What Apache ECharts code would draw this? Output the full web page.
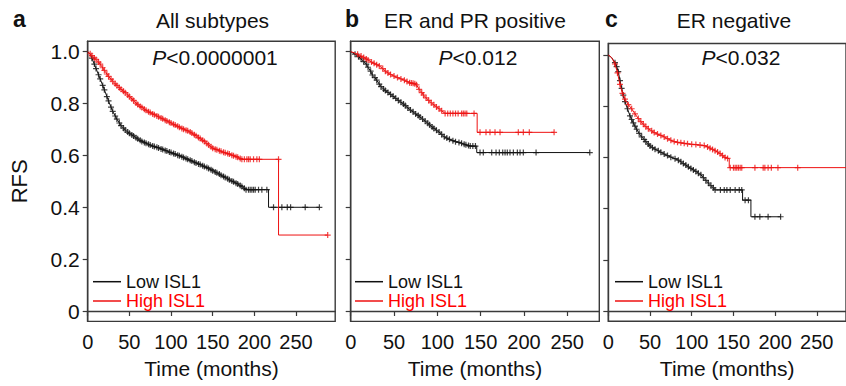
<!DOCTYPE html>
<html><head><meta charset="utf-8">
<script src="https://cdn.jsdelivr.net/npm/echarts@6/dist/echarts.min.js"></script>
<style>html,body{margin:0;padding:0;background:#fff}#c{width:846px;height:386px}</style>
</head><body><div id="c"></div>
<script>
// ---------- data ----------
const xTicks = [0, 50, 100, 150, 200, 250];
const yTicks = [0, 0.2, 0.4, 0.6, 0.8, 1.0];
const panelLetters = ['a', 'b', 'c'];
const panelTitles = ['All subtypes', 'ER and PR positive', 'ER negative'];
const pValues = ['<0.0000001', '<0.012', '<0.032'];
const seriesNames = ['Low ISL1', 'High ISL1'];

// Panel a (All subtypes)
const aLowCurve = [[0,1],[3,0.99],[5,0.975],[10,0.935],[15,0.895],[20,0.853],[25,0.81],[30,0.77],[35,0.74],[40,0.715],[45,0.698],[50,0.685],[55,0.675],[60,0.664],[65,0.654],[70,0.647],[75,0.64],[80,0.634],[85,0.629],[90,0.623],[95,0.617],[100,0.611],[105,0.605],[110,0.599],[115,0.592],[120,0.585],[125,0.578],[130,0.571],[135,0.565],[140,0.557],[145,0.55],[150,0.541],[155,0.533],[160,0.524],[165,0.515],[170,0.506],[175,0.498],[180,0.49],[185,0.48],[190,0.468],[217,0.468],[217,0.40],[278,0.40]];
const aLowCensor = [[5,0.975],[8,0.952],[10,0.935],[13,0.911],[15,0.895],[18,0.87],[20,0.853],[23,0.827],[25,0.81],[28,0.786],[30,0.77],[33,0.752],[35,0.74],[38,0.725],[40,0.715],[43,0.705],[45,0.698],[48,0.69],[50,0.685],[53,0.679],[55,0.675],[58,0.668],[60,0.664],[63,0.658],[65,0.654],[68,0.65],[70,0.647],[73,0.643],[75,0.64],[78,0.636],[80,0.634],[83,0.631],[85,0.629],[88,0.625],[90,0.623],[93,0.619],[95,0.617],[98,0.613],[100,0.611],[103,0.607],[105,0.605],[108,0.601],[110,0.599],[113,0.595],[115,0.592],[118,0.588],[120,0.585],[123,0.581],[125,0.578],[128,0.574],[130,0.571],[133,0.567],[135,0.565],[138,0.56],[140,0.557],[143,0.553],[145,0.55],[148,0.545],[150,0.541],[153,0.536],[155,0.533],[158,0.528],[160,0.524],[163,0.519],[165,0.515],[168,0.51],[170,0.506],[173,0.501],[175,0.498],[178,0.493],[180,0.49],[183,0.484],[185,0.48],[188,0.473],[190,0.468],[193,0.468],[195,0.468],[197,0.468],[199,0.468],[201,0.468],[205,0.468],[209,0.468],[215,0.468],[223,0.40],[233,0.40],[239.5,0.40],[243.5,0.40],[261,0.40],[278,0.40]];
const aHighCurve = [[0,1],[3,0.992],[5,0.985],[10,0.97],[15,0.952],[20,0.928],[25,0.905],[30,0.886],[35,0.87],[40,0.855],[45,0.842],[50,0.827],[55,0.812],[60,0.796],[65,0.785],[70,0.774],[75,0.765],[80,0.757],[85,0.749],[90,0.741],[95,0.733],[100,0.725],[105,0.717],[110,0.709],[115,0.701],[120,0.695],[125,0.686],[130,0.676],[135,0.665],[140,0.654],[145,0.641],[150,0.628],[155,0.622],[160,0.616],[165,0.61],[170,0.605],[175,0.599],[180,0.593],[185,0.585],[229,0.585],[229,0.293],[288,0.293]];
const aHighCensor = [[3,0.992],[5,0.985],[8,0.976],[10,0.97],[13,0.96],[15,0.952],[18,0.938],[20,0.928],[23,0.914],[25,0.905],[28,0.894],[30,0.886],[33,0.876],[35,0.87],[38,0.861],[40,0.855],[43,0.847],[45,0.842],[48,0.833],[50,0.827],[53,0.818],[55,0.812],[58,0.802],[60,0.796],[63,0.789],[65,0.785],[68,0.778],[70,0.774],[73,0.768],[75,0.765],[78,0.76],[80,0.757],[83,0.752],[85,0.749],[88,0.744],[90,0.741],[93,0.736],[95,0.733],[98,0.728],[100,0.725],[103,0.72],[105,0.717],[108,0.712],[110,0.709],[113,0.704],[115,0.701],[118,0.697],[120,0.695],[123,0.69],[125,0.686],[128,0.68],[130,0.676],[133,0.669],[135,0.665],[138,0.658],[140,0.654],[143,0.646],[145,0.641],[148,0.633],[150,0.628],[153,0.624],[155,0.622],[158,0.618],[160,0.616],[163,0.612],[165,0.61],[168,0.607],[170,0.605],[173,0.601],[175,0.599],[178,0.595],[180,0.593],[183,0.588],[185,0.585],[188,0.585],[191,0.585],[193,0.585],[195,0.585],[199,0.585],[203,0.585],[206,0.585],[229,0.585],[288,0.293]];

// Panel b (ER and PR positive)
const bLowCurve = [[0,1],[5,0.99],[9,0.981],[12,0.972],[15,0.962],[18,0.952],[20,0.94],[23,0.925],[25,0.91],[28,0.9],[30,0.89],[33,0.875],[35,0.865],[38,0.856],[40,0.85],[43,0.843],[46,0.835],[49,0.828],[52,0.82],[55,0.812],[58,0.805],[61,0.798],[63,0.792],[66,0.783],[69,0.775],[72,0.768],[75,0.76],[78,0.754],[80,0.748],[83,0.74],[86,0.732],[89,0.724],[91,0.718],[94,0.71],[96,0.704],[99,0.697],[102,0.69],[105,0.681],[108,0.672],[111,0.667],[114,0.662],[118,0.657],[121,0.653],[125,0.65],[128,0.647],[133,0.641],[138,0.636],[145.5,0.636],[145.5,0.611],[276,0.611]];
const bLowCensor = [[5,0.99],[9,0.981],[12,0.972],[15,0.962],[18,0.952],[20,0.94],[23,0.925],[25,0.91],[28,0.9],[30,0.89],[33,0.875],[35,0.865],[38,0.856],[40,0.85],[43,0.843],[46,0.835],[49,0.828],[52,0.82],[55,0.812],[58,0.805],[61,0.798],[63,0.792],[66,0.783],[69,0.775],[72,0.768],[75,0.76],[78,0.754],[80,0.748],[83,0.74],[86,0.732],[89,0.724],[91,0.718],[94,0.71],[96,0.704],[99,0.697],[102,0.69],[105,0.681],[108,0.672],[111,0.667],[114,0.662],[118,0.657],[121,0.653],[125,0.65],[128,0.647],[131,0.643],[133,0.641],[136,0.638],[138,0.636],[141,0.636],[144,0.636],[149.3,0.611],[153.1,0.611],[162.8,0.611],[167.8,0.611],[171.6,0.611],[175.5,0.611],[178.2,0.611],[180.8,0.611],[183.9,0.611],[187.8,0.611],[192.4,0.611],[195.5,0.611],[199.3,0.611],[214,0.611],[276,0.611]];
const bHighCurve = [[0,1],[4,0.996],[8,0.99],[12,0.983],[15,0.978],[20,0.968],[24,0.96],[27,0.955],[30,0.95],[33,0.945],[37,0.935],[40,0.925],[43,0.918],[46,0.912],[50,0.906],[54,0.9],[58,0.895],[62,0.89],[65,0.885],[68,0.88],[72,0.878],[76,0.872],[79,0.855],[82,0.842],[84,0.833],[87,0.822],[90,0.812],[93,0.803],[96,0.795],[99,0.787],[102,0.78],[105,0.772],[109,0.762],[146,0.762],[146,0.689],[235,0.689]];
const bHighCensor = [[8,0.99],[12,0.983],[15,0.978],[18,0.972],[20,0.968],[24,0.96],[27,0.955],[30,0.95],[33,0.945],[37,0.935],[40,0.925],[43,0.918],[46,0.912],[50,0.906],[54,0.9],[58,0.895],[62,0.89],[65,0.885],[68,0.88],[70,0.879],[72,0.878],[74,0.876],[76,0.872],[79,0.855],[82,0.842],[84,0.833],[87,0.822],[90,0.812],[93,0.803],[96,0.795],[99,0.787],[102,0.78],[105,0.772],[109,0.762],[112,0.762],[115,0.762],[118,0.762],[121,0.762],[124,0.762],[128,0.762],[130,0.762],[132,0.762],[134,0.762],[142.4,0.762],[149.3,0.689],[156.2,0.689],[160.8,0.689],[166.6,0.689],[172.4,0.689],[193.5,0.689],[199.3,0.689],[206.2,0.689],[234.8,0.689]];

// Panel c (ER negative)
const cLowCurve = [[0,1],[4,0.99],[8,0.97],[10,0.955],[12,0.935],[14,0.9],[16,0.87],[18,0.843],[20,0.818],[23,0.79],[26,0.762],[28,0.748],[30,0.735],[32,0.722],[34,0.71],[37,0.694],[40,0.68],[43,0.67],[45,0.662],[48,0.652],[50,0.645],[53,0.638],[56,0.632],[60,0.626],[63,0.62],[67,0.613],[71,0.607],[75,0.601],[80,0.595],[84,0.589],[87,0.583],[90,0.576],[93,0.57],[96,0.563],[99,0.557],[102,0.551],[105,0.545],[108,0.538],[111,0.532],[114,0.521],[117,0.51],[120,0.5],[123,0.49],[126,0.481],[128,0.473],[161,0.473],[161,0.433],[171,0.433],[171,0.368],[207,0.368]];
const cLowCensor = [[8,0.97],[10,0.955],[12,0.935],[14,0.9],[16,0.87],[18,0.843],[20,0.818],[23,0.79],[26,0.762],[28,0.748],[30,0.735],[32,0.722],[34,0.71],[37,0.694],[40,0.68],[43,0.67],[45,0.662],[48,0.652],[50,0.645],[53,0.638],[56,0.632],[60,0.626],[63,0.62],[67,0.613],[71,0.607],[75,0.601],[80,0.595],[84,0.589],[87,0.583],[90,0.576],[93,0.57],[96,0.563],[99,0.557],[102,0.551],[105,0.545],[108,0.538],[111,0.532],[114,0.521],[117,0.51],[120,0.5],[123,0.49],[126,0.481],[128,0.473],[134.4,0.473],[139,0.473],[142.2,0.473],[146.2,0.473],[152.1,0.473],[157,0.473],[160,0.473],[164,0.433],[168,0.433],[175.8,0.368],[181.7,0.368],[191.6,0.368],[206.6,0.368]];
const cHighCurve = [[0,1],[4,0.99],[8,0.965],[11,0.93],[14,0.885],[17,0.85],[20,0.828],[24,0.806],[28,0.79],[32,0.77],[36,0.752],[39,0.74],[42,0.73],[45,0.72],[48,0.712],[52,0.704],[55,0.697],[59,0.691],[63,0.686],[67,0.68],[71,0.673],[75,0.667],[79,0.662],[83,0.659],[87,0.657],[91,0.655],[95,0.653],[100,0.651],[105,0.65],[110,0.648],[115,0.646],[119,0.641],[122,0.636],[125,0.631],[128,0.626],[131,0.621],[134,0.615],[137,0.607],[140,0.6],[145,0.595],[145,0.56],[300,0.56]];
const cHighCensor = [[8,0.965],[11,0.93],[14,0.885],[17,0.85],[20,0.828],[24,0.806],[28,0.79],[32,0.77],[36,0.752],[39,0.74],[42,0.73],[45,0.72],[48,0.712],[52,0.704],[55,0.697],[59,0.691],[63,0.686],[67,0.68],[71,0.673],[75,0.667],[79,0.662],[83,0.659],[87,0.657],[91,0.655],[95,0.653],[100,0.651],[105,0.65],[110,0.648],[115,0.646],[119,0.641],[122,0.636],[125,0.631],[128,0.626],[131,0.621],[134,0.615],[137,0.607],[140,0.6],[143,0.596],[146.2,0.56],[150.1,0.56],[152.1,0.56],[154,0.56],[156,0.56],[158.1,0.56],[160,0.56],[175.8,0.56],[185.7,0.56],[187.7,0.56],[191.6,0.56],[195.5,0.56],[203.4,0.56],[227.1,0.56]];

const panels = [
  {low: aLowCurve, lowC: aLowCensor, high: aHighCurve, highC: aHighCensor},
  {low: bLowCurve, lowC: bLowCensor, high: bHighCurve, highC: bHighCensor},
  {low: cLowCurve, lowC: cLowCensor, high: cHighCurve, highC: cHighCensor}
];

// ---------- layout / style ----------
const FONT = '"Liberation Sans", Arial, Helvetica, sans-serif';
const BLACK = '#111111';
const RED = '#ee1111';
const AXIS = '#3a3a3a';
const PLUS = 'path://M4,0H6V4H10V6H6V10H4V6H0V4H4Z';

const grids = [
  {left: 87.7, top: 41.3, width: 247.5, height: 280.1, xMax: 297, yMin: -0.04, yMax: 1.04},
  {left: 350.7, top: 41.3, width: 248.6, height: 280.1, xMax: 287, yMin: -0.04, yMax: 1.04},
  {left: 608.3, top: 43.5, width: 240.5, height: 277.7, xMax: 285, yMin: -0.04, yMax: 1.045}
];
const titleX = [212.5, 475, 734];
const pX = [215, 478, 741];
const letterX = [13, 345, 605];
const legendX = [93, 355, 615];

const option = {
  animation: false,
  backgroundColor: '#ffffff',
  grid: grids.map(g => ({left: g.left, top: g.top, width: g.width, height: g.height,
    show: true, borderColor: AXIS, borderWidth: 1.4, backgroundColor: 'transparent', containLabel: false})),
  xAxis: grids.map((g, i) => ({
    type: 'value', gridIndex: i, min: 0, max: g.xMax,
    name: 'Time (months)', nameLocation: 'middle', nameGap: 37,
    nameTextStyle: {fontFamily: FONT, fontSize: 21, color: BLACK},
    axisLine: {show: true, lineStyle: {color: AXIS, width: 1.4}},
    axisTick: {show: true, length: 5, lineStyle: {color: AXIS, width: 1.2}, customValues: xTicks},
    axisLabel: {show: true, margin: 11, fontFamily: FONT, fontSize: 20, color: BLACK, customValues: xTicks},
    splitLine: {show: false}
  })),
  yAxis: grids.map((g, i) => ({
    type: 'value', gridIndex: i, min: g.yMin, max: g.yMax,
    name: i === 0 ? 'RFS' : '', nameLocation: 'middle', nameGap: 57,
    nameTextStyle: {fontFamily: FONT, fontSize: 22, color: BLACK},
    axisLine: {show: true, lineStyle: {color: AXIS, width: 1.4}},
    axisTick: {show: true, length: 5, lineStyle: {color: AXIS, width: 1.2}, customValues: yTicks},
    axisLabel: {show: i === 0, margin: 8, fontFamily: FONT, fontSize: 21, color: BLACK, customValues: yTicks,
      formatter: v => (v === 0 ? '0' : v.toFixed(1))},
    splitLine: {show: false}
  })),
  legend: legendX.map(x => ({
    left: x, top: 272.2, orient: 'vertical', icon: 'rect', itemWidth: 28, itemHeight: 1.5, itemGap: 0.3,
    selectedMode: false, padding: 0,
    textStyle: {fontFamily: FONT, fontSize: 18, lineHeight: 19},
    data: [{name: seriesNames[0], textStyle: {color: BLACK}}, {name: seriesNames[1], textStyle: {color: '#ff0000'}}]
  })),
  series: [],
  graphic: []
};

panels.forEach((p, i) => {
  option.series.push(
    {type: 'line', name: seriesNames[0], xAxisIndex: i, yAxisIndex: i, data: p.low, showSymbol: false,
      lineStyle: {color: BLACK, width: 1}, itemStyle: {color: BLACK}, z: 2},
    {type: 'scatter', name: seriesNames[0] + ' censored', xAxisIndex: i, yAxisIndex: i, data: p.lowC,
      symbol: PLUS, symbolSize: 6, itemStyle: {color: BLACK}, z: 2},
    {type: 'line', name: seriesNames[1], xAxisIndex: i, yAxisIndex: i, data: p.high, showSymbol: false,
      lineStyle: {color: RED, width: 1}, itemStyle: {color: RED}, z: 3},
    {type: 'scatter', name: seriesNames[1] + ' censored', xAxisIndex: i, yAxisIndex: i, data: p.highC,
      symbol: PLUS, symbolSize: 6, itemStyle: {color: RED}, z: 3}
  );
  option.graphic.push(
    {type: 'text', x: letterX[i], y: 19, style: {text: panelLetters[i], font: 'bold 23px ' + FONT, fill: BLACK, align: 'left', verticalAlign: 'middle'}},
    {type: 'text', x: titleX[i], y: 20.5, style: {text: panelTitles[i], font: '21px ' + FONT, fill: BLACK, align: 'center', verticalAlign: 'middle'}},
    {type: 'text', x: pX[i], y: 57.5, style: {
      text: '{i|P}{n|' + pValues[i] + '}', align: 'center', verticalAlign: 'middle', fill: BLACK,
      rich: {i: {fontStyle: 'italic', fontSize: 21, fontFamily: FONT, fill: BLACK}, n: {fontSize: 21, fontFamily: FONT, fill: BLACK}}
    }}
  );
});

const chart = echarts.init(document.getElementById('c'), null, {renderer: 'svg'});
chart.setOption(option);
</script>
</body></html>
